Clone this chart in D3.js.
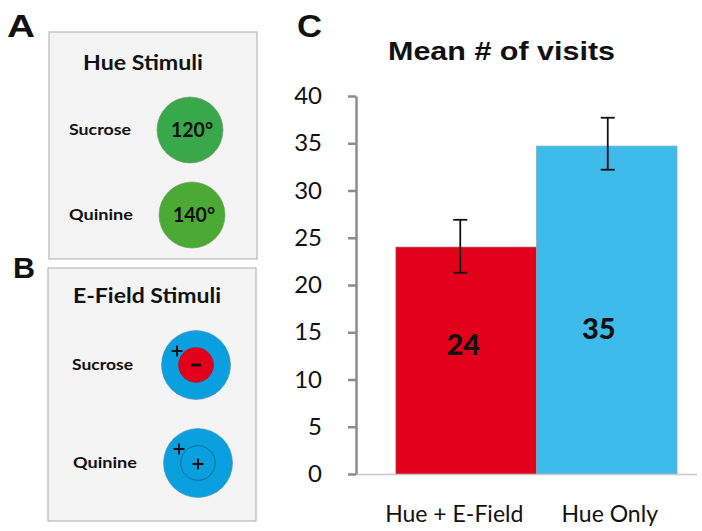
<!DOCTYPE html>
<html>
<head>
<meta charset="utf-8">
<script src="https://cdn.jsdelivr.net/npm/d3@7"></script>
<style>
  body { margin: 0; background: #fff; }
  svg { display: block; }
</style>
</head>
<body>
<div id="chart"></div>
<script>
// Bar chart data (panel C)
const categories = ['Hue + E-Field', 'Hue Only'];
const means = [24, 34.7];
const errLow = [21.3, 32.2];
const errHigh = [26.9, 37.7];
const valueLabels = ['24', '35'];
const yTicks = [0, 5, 10, 15, 20, 25, 30, 35, 40];
const barColors = ['#e2001a', '#3ebbea'];

// Stimulus panels (A and B)
const hueRows = ['Sucrose', 'Quinine'];
const hueAngles = ['120°', '140°'];
const hueColors = ['#38a84a', '#4aaa33'];
const fieldRows = ['Sucrose', 'Quinine'];

const W = 702, H = 531;
const svg = d3.select('#chart').append('svg')
    .attr('width', W)
    .attr('height', H);

const calibri = 'Lato, "Open Sans", sans-serif';
const arial = '"Liberation Sans", Arial, sans-serif';

// the original figure is a little stretched sideways, so texts get a fixed length
function label(g, txt, x, y, size, len, opts = {}) {
    const t = g.append('text')
        .attr('x', x).attr('y', y)
        .attr('text-anchor', opts.anchor || 'start')
        .style('font-family', opts.family || calibri)
        .style('font-weight', opts.weight || 'bold')
        .style('font-size', size + 'px')
        .style('fill', '#111')
        .text(txt);
    if (len) t.attr('textLength', len).attr('lengthAdjust', 'spacingAndGlyphs');
    return t;
}

// panel letters
label(svg, 'A', 7, 37, 31, 28, { family: arial });
label(svg, 'B', 13, 278, 30, 22, { family: arial });
label(svg, 'C', 297, 37, 31, 25, { family: arial });

// ---- Panel A: hue stimuli ----
const pa = svg.append('g');
pa.append('rect')
    .attr('x', 49).attr('y', 32).attr('width', 208).attr('height', 227)
    .style('fill', '#f4f4f4').style('stroke', '#b8b8b8').style('stroke-width', 1.2);
label(pa, 'Hue Stimuli', 83, 70, 21, 120);

const rowYA = d3.scalePoint().domain(hueRows).range([130, 215]);
const rowA = pa.selectAll('g.row').data(hueRows).enter().append('g')
    .attr('transform', d => `translate(0,${rowYA(d)})`);
rowA.each(function (d, i) {
    label(d3.select(this), d, 69, 5, 16, i === 0 ? 62 : 64);
});
rowA.append('circle')
    .attr('cx', (d, i) => 190 + i * 2).attr('cy', 0).attr('r', 33)
    .style('fill', (d, i) => hueColors[i])
    .style('stroke', '#6a9a60').style('stroke-width', 0.6);
rowA.each(function (d, i) {
    label(d3.select(this), hueAngles[i], 171 + i * 2, 7, 21, 42);
});

// ---- Panel B: e-field stimuli ----
const pb = svg.append('g');
pb.append('rect')
    .attr('x', 48).attr('y', 268).attr('width', 208).attr('height', 253)
    .style('fill', '#f4f4f4').style('stroke', '#b8b8b8').style('stroke-width', 1.2);
label(pb, 'E-Field Stimuli', 73, 303, 21, 148);

const rowYB = d3.scalePoint().domain(fieldRows).range([365, 463]);
const rowB = pb.selectAll('g.row').data(fieldRows).enter().append('g')
    .attr('transform', (d, i) => `translate(${196 + i * 2},${rowYB(d)})`);
rowB.each(function (d, i) {
    label(d3.select(this), d, -124 - i, 5, 16, i === 0 ? 61 : 64);
});
rowB.append('circle')
    .attr('r', 34.5)
    .style('fill', '#0aa0e0').style('stroke', '#5a8ab0').style('stroke-width', 0.6);
rowB.append('circle')
    .attr('r', 17.3)
    .style('fill', (d, i) => i === 0 ? '#e2001a' : 'none')
    .style('stroke', (d, i) => i === 0 ? '#c00018' : '#1d5f80')
    .style('stroke-width', 0.8);

function plus(g, x, y, s) {
    g.append('path')
        .attr('d', `M${x - s},${y}H${x + s}M${x},${y - s}V${y + s}`)
        .style('stroke', '#111').style('stroke-width', 2).style('fill', 'none');
}
rowB.each(function (d, i) {
    const g = d3.select(this);
    plus(g, -19, -14, 5.5);
    if (i === 0) {
        g.append('path').attr('d', 'M-5,0H5')
            .style('stroke', '#111').style('stroke-width', 2.8);
    } else {
        plus(g, 0, 1, 5.5);
    }
});

// ---- Panel C: bar chart ----
const y = d3.scaleLinear().domain([0, 40]).range([474, 96]);
const x = d3.scaleBand().domain(categories).range([396, 677]).padding(0);

label(svg, 'Mean # of visits', 388, 60, 26, 227, { family: arial });

// bars
svg.selectAll('rect.bar')
    .data(means)
    .enter().append('rect')
    .attr('class', 'bar')
    .attr('x', (d, i) => x(categories[i]))
    .attr('y', d => y(d))
    .attr('width', x.bandwidth())
    .attr('height', d => y(0) - y(d))
    .style('fill', (d, i) => barColors[i])
    .style('stroke', (d, i) => i === 0 ? '#b5303a' : '#7ab0c8')
    .style('stroke-width', 0.8);

// baseline
svg.append('line')
    .attr('x1', 355).attr('x2', 697)
    .attr('y1', y(0) + 0.5).attr('y2', y(0) + 0.5)
    .style('stroke', '#c8c8c8').style('stroke-width', 1.5);

// y axis
const yAxis = d3.axisLeft(y).tickValues(yTicks).tickSize(8).tickPadding(26).tickSizeOuter(0);
const gy = svg.append('g')
    .attr('transform', 'translate(356,0)')
    .call(yAxis);
gy.select('.domain').style('stroke', '#8c8c8c').style('stroke-width', 2.5);
gy.selectAll('.tick line').style('stroke', '#8c8c8c').style('stroke-width', 2.5);
gy.selectAll('.tick text')
    .style('font-family', calibri).style('font-size', '24px').style('fill', '#111');

// error bars
const eb = svg.selectAll('g.err').data(means).enter().append('g')
    .attr('class', 'err')
    .attr('transform', (d, i) => `translate(${x(categories[i]) + x.bandwidth() / 2 + (i === 0 ? -6 : 1)},0)`);
eb.append('line')
    .attr('y1', (d, i) => y(errLow[i])).attr('y2', (d, i) => y(errHigh[i]))
    .style('stroke', '#111').style('stroke-width', 1.8);
eb.append('line')
    .attr('x1', -7).attr('x2', 7)
    .attr('y1', (d, i) => y(errHigh[i])).attr('y2', (d, i) => y(errHigh[i]))
    .style('stroke', '#111').style('stroke-width', 1.8);
eb.append('line')
    .attr('x1', -7).attr('x2', 7)
    .attr('y1', (d, i) => y(errLow[i])).attr('y2', (d, i) => y(errLow[i]))
    .style('stroke', '#111').style('stroke-width', 1.8);

// value labels inside bars
const labelLevel = [13.7, 15.3];
svg.selectAll('text.val').data(valueLabels).enter().append('text')
    .attr('class', 'val')
    .attr('x', (d, i) => x(categories[i]) + x.bandwidth() / 2 + (i === 0 ? -3 : -8))
    .attr('y', (d, i) => y(labelLevel[i]) + 10)
    .attr('text-anchor', 'middle')
    .style('font-family', calibri).style('font-weight', 900).style('font-size', '29px')
    .style('fill', '#111')
    .text(d => d);

// category labels
svg.selectAll('text.cat').data(categories).enter().append('text')
    .attr('class', 'cat')
    .attr('x', (d, i) => x(d) + x.bandwidth() / 2 + (i === 0 ? -12 : 3))
    .attr('y', 522)
    .attr('text-anchor', 'middle')
    .style('font-family', calibri).style('font-size', '23px')
    .style('fill', '#111')
    .text(d => d);
</script>
</body>
</html>
